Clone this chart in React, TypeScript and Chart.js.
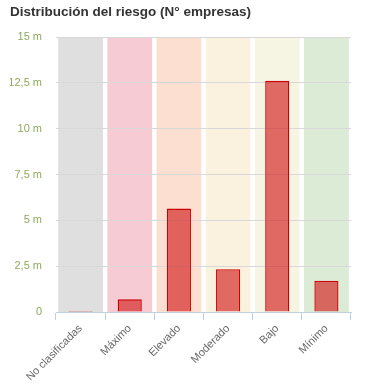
import React, { useEffect, useRef } from "react";
import { Chart, registerables } from "chart.js";

Chart.register(...registerables);

const title = "Distribución del riesgo (N° empresas)";
const categories = ["No clasificadas", "Máximo", "Elevado", "Moderado", "Bajo", "Mínimo"];
const empresas = [0.05, 0.69, 5.64, 2.33, 12.62, 1.71];
const bandColors = ["#dfdfdf", "#f7cbd4", "#fddfd2", "#faf2de", "#f6f4e2", "#dcebd5"];
const yMax = 15;
const yStep = 2.5;

const bandsPlugin = {
  id: "bands",
  beforeDraw(chart: any) {
    const { ctx, chartArea, scales } = chart;
    const x = scales.x;
    const y = scales.y;
    const n = categories.length;
    const catW = (chartArea.right - chartArea.left) / n;
    const w = catW * 0.91;
    ctx.save();
    categories.forEach((_, i) => {
      const cx = x.getPixelForValue(i);
      ctx.fillStyle = bandColors[i];
      ctx.fillRect(cx - w / 2, y.getPixelForValue(yMax), w, y.getPixelForValue(0) - y.getPixelForValue(yMax));
    });
    ctx.restore();
  },
};

function formatTick(v: number) {
  if (v === 0) return "0";
  return String(v).replace(".", ",") + " m";
}

export default function App() {
  const ref = useRef<HTMLCanvasElement | null>(null);
  useEffect(() => {
    if (!ref.current) return;
    const chart = new Chart(ref.current, {
      type: "bar",
      data: {
        labels: categories,
        datasets: [
          {
            data: empresas,
            backgroundColor: "rgba(210,30,30,0.65)",
            borderColor: "#cc0000",
            borderWidth: 1.3,
            barPercentage: 0.49,
            categoryPercentage: 1,
          },
        ],
      },
      options: {
        animation: false,
        responsive: false,
        maintainAspectRatio: false,
        layout: { padding: { left: 10, right: 14, top: 0, bottom: 0 } },
        plugins: {
          legend: { display: false },
          tooltip: { enabled: false },
          title: {
            display: true,
            text: title,
            align: "start",
            color: "#333333",
            font: { family: "Liberation Sans, Arial, sans-serif", size: 13.5, weight: "bold" },
            padding: { top: 4, bottom: 16.8 },
          },
        },
        scales: {
          x: {
            grid: {
              offset: true,
              drawOnChartArea: false,
              color: "#c0d0e0",
              tickLength: 8,
            },
            border: { color: "#c0d0e0" },
            ticks: {
              color: "#666666",
              maxRotation: 45,
              minRotation: 45,
              padding: 2,
              font: { family: "Liberation Sans, Arial, sans-serif", size: 11 },
            },
            afterFit(s: any) {
              s.height = 73;
            },
          },
          y: {
            min: 0,
            max: yMax,
            grid: { color: "#d8d8d8", drawTicks: false },
            border: { display: false },
            ticks: {
              stepSize: yStep,
              color: "#8eaa5a",
              padding: 14,
              font: { family: "Liberation Sans, Arial, sans-serif", size: 11 },
              callback: (v: any) => formatTick(Number(v)),
            },
            afterFit(s: any) {
              s.width = 46;
            },
          },
        },
      },
      plugins: [bandsPlugin],
    });
    return () => chart.destroy();
  }, []);
  return (
    <div style={{ position: "absolute", left: 0, top: 0, width: 365, height: 385 }}>
      <canvas ref={ref} width={365} height={385} style={{ display: "block" }} />
    </div>
  );
}
